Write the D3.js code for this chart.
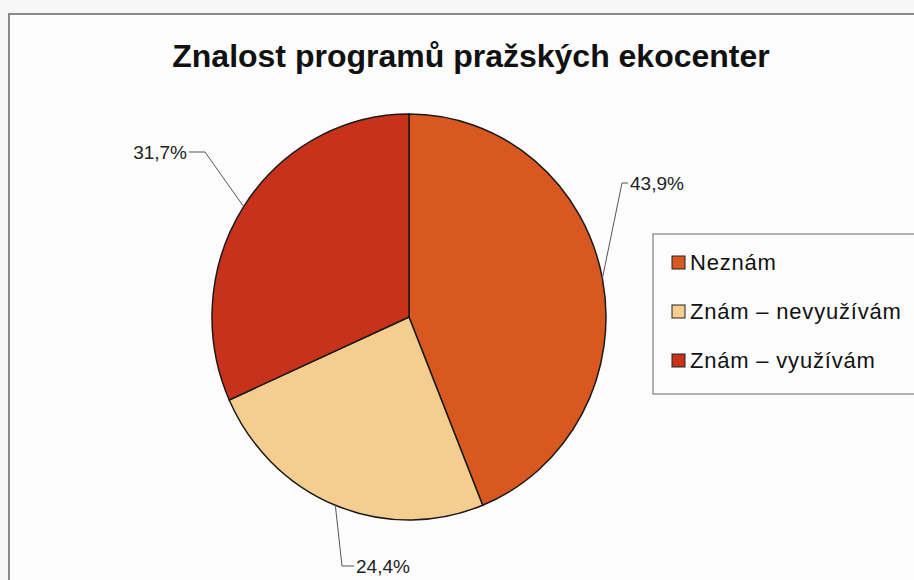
<!DOCTYPE html>
<head>
  <title>Znalost programů</title>
  <script src="https://d3js.org/d3.v7.min.js"></script>
  <style>
  body {margin: 0; background: #f7f7f7;}
  #chart {display: block; font-family: "Liberation Sans", Arial, sans-serif;}
  .frame {fill: #fcfcfc; stroke: #8a8a8a; stroke-width: 2px;}
  .slice {stroke: #1a1a1a; stroke-width: 1.5px;}
  .leader {fill: none; stroke: #555; stroke-width: 1px;}
  .pct {font-size: 19px; fill: #222;}
  #title {font-size: 32px; font-weight: bold; text-anchor: middle; fill: #111;}
  .legendBox {fill: #fcfcfc; stroke: #666; stroke-width: 1px;}
  .legendText {font-size: 22px; letter-spacing: 0.8px; fill: #111;}
  </style>
</head>
<body>
  <svg id="chart" width="914" height="580"></svg>
  <script>
  var categories = ["Neznám", "Znám – nevyužívám", "Znám – využívám"];
  var shares = [43.9, 24.4, 31.7];
  var labels = ["43,9%", "24,4%", "31,7%"];
  var colors = ["#d9581f", "#f4cd8f", "#c8321a"];

  var svg = d3.select("#chart");
  var cx = 409, cy = 317, rx = 197, ry = 203;

  // outer frame
  svg.append("rect").attr("class", "frame")
    .attr("x", 9).attr("y", 14).attr("width", 930).attr("height", 600);

  svg.append("text").attr("id", "title")
    .attr("x", 471).attr("y", 67)
    .text("Znalost programů pražských ekocenter");

  var data = categories.map(function(c, i) {
    return {name: c, value: shares[i], label: labels[i], color: colors[i]};
  });

  var pie = d3.pie().sort(null).value(function(d) { return d.value; });
  var arcs = pie(data);
  var arc = d3.arc().innerRadius(0).outerRadius(rx);

  var g = svg.append("g")
    .attr("transform", "translate(" + cx + "," + cy + ") scale(1," + (ry / rx) + ")");
  g.selectAll("path.slice").data(arcs).enter().append("path")
    .attr("class", "slice")
    .attr("d", arc)
    .attr("fill", function(d) { return d.data.color; })
    .attr("vector-effect", "non-scaling-stroke");

  // label layout: elbow point, end of the short horizontal, text anchor
  var labelLayout = [
    {elbow: [622, 183], end: [628, 183], anchor: "start"},
    {elbow: [342, 566], end: [354, 566], anchor: "start"},
    {elbow: [205, 152], end: [189, 152], anchor: "end"}
  ];

  arcs.forEach(function(a, i) {
    var mid = (a.startAngle + a.endAngle) / 2;
    var sx = cx + rx * Math.sin(mid);
    var sy = cy - ry * Math.cos(mid);
    var L = labelLayout[i];
    svg.append("path").attr("class", "leader")
      .attr("d", "M" + sx + "," + sy + "L" + L.elbow[0] + "," + L.elbow[1] + "L" + L.end[0] + "," + L.end[1]);
    svg.append("text").attr("class", "pct")
      .attr("x", L.end[0] + (L.anchor == "start" ? 2 : -2))
      .attr("y", L.end[1] + 7)
      .attr("text-anchor", L.anchor)
      .text(a.data.label);
  });

  // legend
  var legend = svg.append("g");
  legend.append("rect").attr("class", "legendBox")
    .attr("x", 653).attr("y", 234).attr("width", 300).attr("height", 160);
  var rowY = d3.scalePoint().domain(categories).range([262, 360]);
  var items = legend.selectAll("g.item").data(data).enter().append("g")
    .attr("class", "item")
    .attr("transform", function(d) { return "translate(672," + rowY(d.name) + ")"; });
  items.append("rect")
    .attr("x", 0).attr("y", -6).attr("width", 13).attr("height", 13)
    .attr("fill", function(d) { return d.color; })
    .attr("stroke", "#222").attr("stroke-width", 1);
  items.append("text").attr("class", "legendText")
    .attr("x", 18).attr("y", 8)
    .text(function(d) { return d.name; });
  </script>
</body>
